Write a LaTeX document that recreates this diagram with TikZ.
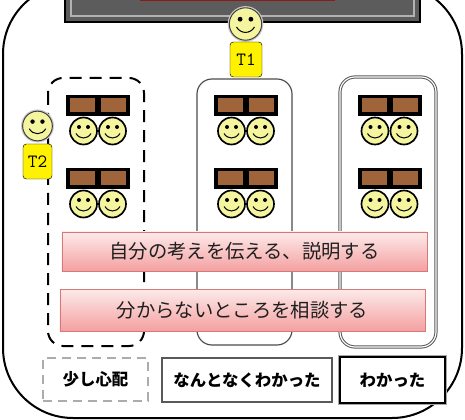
\documentclass[tikz,border=0pt]{standalone}
\usepackage{fontspec}
\newfontfamily\jp{Noto Sans CJK JP}
\usepackage{tikz}
\usetikzlibrary{positioning}
\usepackage{xcolor}
\definecolor{facey}{RGB}{245,245,160}
\definecolor{deskbrown}{RGB}{160,100,58}
\definecolor{boardgray}{RGB}{92,92,92}
\definecolor{boardred}{RGB}{140,28,28}
\definecolor{pinkline}{RGB}{212,120,120}
\definecolor{pinktop}{RGB}{253,234,234}
\definecolor{pinkbot}{RGB}{244,160,160}

% one smiling face, centre at the pic origin
\tikzset{
  face line/.style={draw=black, line width=0.5mm},
  face/.pic={
    \draw[face line, fill=facey] (0,0) circle (13.5);
    \fill (-4.5,-4) circle (2);
    \fill (4.5,-4) circle (2);
    \draw[line width=0.3mm] (-7.5,2.5) .. controls (-4,8.5) and (4,8.5) .. (7.5,2.5);
  }
}

\begin{document}
\begin{tikzpicture}[x=0.3mm, y=-0.3mm,
    pinkbox/.style={draw=pinkline, top color=pinktop, bottom color=pinkbot, minimum width=109.5mm,
      inner sep=0pt, text=black!88, font=\jp\fontsize{16.5}{18}\selectfont},
    lvlbox/.style={fill=white, inner sep=0pt, font=\jp\bfseries\fontsize{14}{16}\selectfont},
    tlabel/.style={draw=black, fill=yellow, rounded corners=1mm, inner sep=0pt,
      font=\ttfamily\fontsize{16}{16}\selectfont}]
  \clip (0,0) rectangle (465,420);
  % room and blackboard
  \draw[line width=0.6mm, rounded corners=21mm] (3,-16) rectangle (462,418);
  \filldraw[fill=boardgray, draw=black, line width=0.4mm] (65,-10) rectangle (420,22);
  \draw[gray!60, line width=0.4mm] (71,-10) rectangle (414,16);
  \fill[boardred] (140,-10) rectangle (335,1.5);
  % the three groups
  \draw[line width=0.6mm, dash pattern=on 3.6mm off 2.4mm, rounded corners=4.5mm] (48,78) rectangle (144,346);
  \draw[gray!60!black, line width=0.35mm, rounded corners=4.5mm] (197,79) rectangle (292,345);
  \draw[gray!70!black, line width=0.3mm, double, double distance=0.35mm, rounded corners=4.5mm] (340,77) rectangle (436,347);
  \foreach \gx in {98,246,389.5}
    \foreach \gy in {106,179} {
      \fill (\gx-32,\gy-10.5) rectangle (\gx+32,\gy+10.5);
      \fill[deskbrown] (\gx-28,\gy-7.5) rectangle (\gx-3,\gy+6.5);
      \fill[deskbrown] (\gx+3,\gy-7.5) rectangle (\gx+28,\gy+6.5);
      \pic at (\gx-14.5,\gy+25) {face};
      \pic at (\gx+14.5,\gy+25) {face};
    }
  % teachers
  \pic[scale=1.2, face line/.style={draw=black!75, line width=0.3mm, preaction={draw=gray!40, line width=1mm}}] at (245.5,24) {face};
  \node[tlabel, minimum width=9.6mm, minimum height=10.5mm] (t1) at (246,59.5) {T1};
  \pic[scale=1.1, face line/.style={draw=black!75, line width=0.3mm, preaction={draw=gray!40, line width=1mm}}] at (37.5,126) {face};
  \node[tlabel, minimum width=8.7mm, minimum height=10.5mm] (t2) at (37.5,161.5) {T2};
  % activities
  \node[pinkbox, minimum height=11.7mm] (explain) at (244.5,251.5) {自分の考えを伝える、説明する};
  \node[pinkbox, minimum height=12.6mm] (consult) at (242.5,310) {分からないところを相談する};
  % levels of understanding
  \node[lvlbox, draw=gray!65, line width=0.6mm, dash pattern=on 2.7mm off 1.8mm,
    minimum width=31.5mm, minimum height=12.9mm] (worried) at (95.5,379.5) {少し心配};
  \node[lvlbox, draw=gray!70!black, line width=0.4mm,
    minimum width=51mm, minimum height=13.2mm] (somewhat) at (247,380) {なんとなくわかった};
  \node[lvlbox, draw=black, line width=0.35mm, preaction={draw=gray!70, line width=1.4mm},
    minimum width=31.5mm, minimum height=13.8mm] (got) at (392.5,380) {わかった};
\end{tikzpicture}
\end{document}
